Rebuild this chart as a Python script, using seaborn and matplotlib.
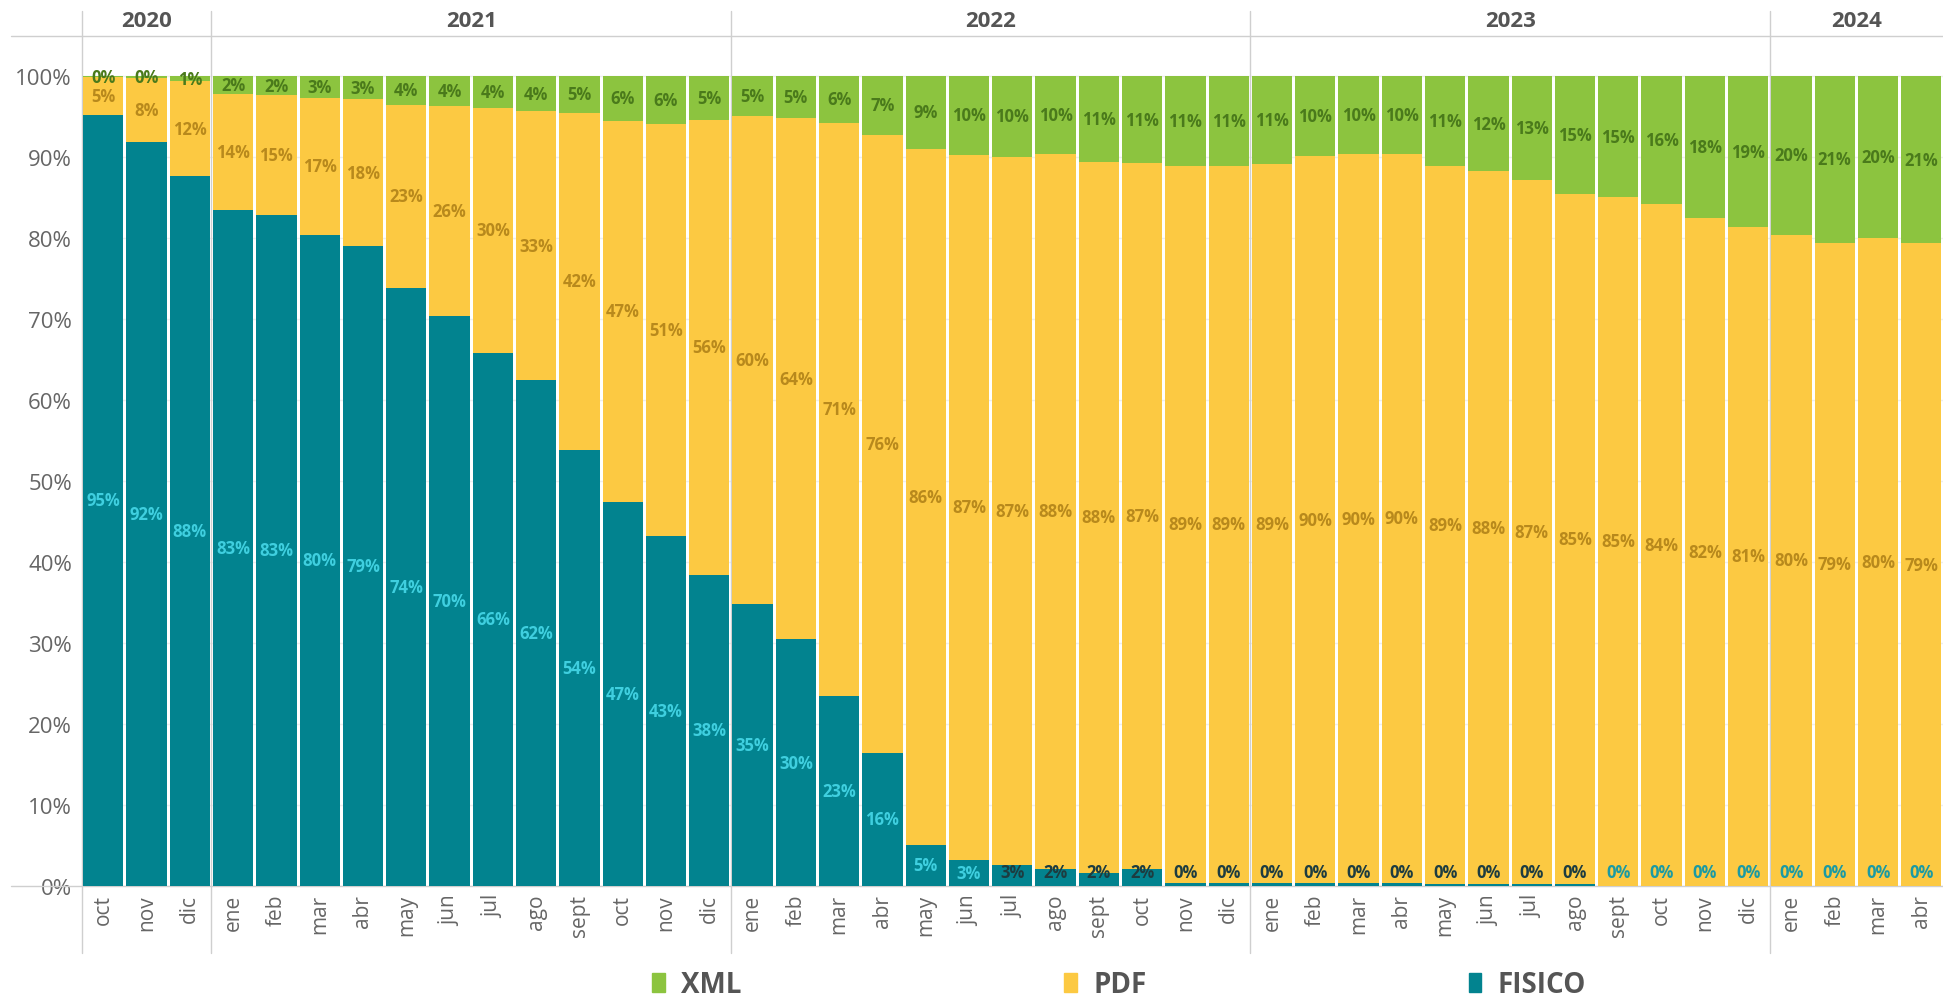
import numpy as np
import pandas as pd
import seaborn as sns
import matplotlib.pyplot as plt
from matplotlib.patches import Patch

# months Oct 2020 .. Apr 2024
months = ["oct", "nov", "dic",
          "ene", "feb", "mar", "abr", "may", "jun", "jul", "ago", "sept", "oct", "nov", "dic",
          "ene", "feb", "mar", "abr", "may", "jun", "jul", "ago", "sept", "oct", "nov", "dic",
          "ene", "feb", "mar", "abr", "may", "jun", "jul", "ago", "sept", "oct", "nov", "dic",
          "ene", "feb", "mar", "abr"]
years = ["2020", "2021", "2022", "2023", "2024"]
year_counts = [3, 12, 12, 12, 4]

fisico = [95.2, 91.8, 87.6, 83.4, 82.8, 80.4, 79.0, 73.8, 70.4, 65.8, 62.4, 53.8, 47.4, 43.2, 38.4,
          34.8, 30.4, 23.4, 16.4, 5.0, 3.2, 2.6, 2.0, 1.6, 2.0, 0.3, 0.3,
          0.3, 0.3, 0.3, 0.3, 0.2, 0.2, 0.2, 0.2, 0.0, 0.0, 0.0, 0.0,
          0.0, 0.0, 0.0, 0.0]
pdf = [4.6, 7.9, 11.7, 14.3, 14.8, 16.8, 18.1, 22.6, 25.9, 30.2, 33.2, 41.6, 47.0, 50.8, 56.2,
       60.2, 64.4, 70.8, 76.3, 86.0, 87.0, 87.4, 88.4, 87.8, 87.2, 88.6, 88.6,
       88.8, 89.8, 90.0, 90.1, 88.6, 88.0, 86.9, 85.2, 85.0, 84.2, 82.4, 81.3,
       80.4, 79.4, 80.0, 79.3]
xml = [0.2, 0.3, 0.7, 2.3, 2.4, 2.8, 2.9, 3.6, 3.7, 4.0, 4.4, 4.6, 5.6, 6.0, 5.4,
       5.0, 5.2, 5.8, 7.3, 9.0, 9.8, 10.0, 9.6, 10.6, 10.8, 11.1, 11.1,
       10.9, 9.9, 9.7, 9.6, 11.2, 11.8, 12.9, 14.6, 15.0, 15.8, 17.6, 18.7,
       19.6, 20.6, 20.0, 20.7]

TEAL = "#02838f"
YELLOW = "#fcc942"
GREEN = "#8cc43f"

df = pd.DataFrame({"pos": np.arange(len(months)), "month": months,
                   "FISICO": fisico, "PDF": pdf, "XML": xml})
df["mid"] = df["FISICO"] + df["PDF"]
df["top"] = df["mid"] + df["XML"]

sns.set_theme(style="white")
plt.rcParams["font.family"] = ["Open Sans", "DejaVu Sans"]

fig, ax = plt.subplots(figsize=(19.43, 10.03), dpi=100)
fig.subplots_adjust(left=0.042, right=1.0, bottom=0.116, top=0.963)

# stacked bars drawn as overlapping cumulative totals
for col, color in [("top", GREEN), ("mid", YELLOW), ("FISICO", TEAL)]:
    sns.barplot(data=df, x="pos", y=col, color=color, width=0.93,
                saturation=1, linewidth=0, ax=ax, zorder=2)

# value labels
lab_size = 12
for i, row in df.iterrows():
    f, p, x = row["FISICO"], row["PDF"], row["XML"]
    if f >= 3:
        fc, fy = "#3fcfdf", f / 2
    elif f > 0:
        fc, fy = "#1d3c40", max(f / 2, 1.7)
    else:
        fc, fy = "#1a9aa3", 1.7
    ax.text(i, fy, f"{f:.0f}%", ha="center", va="center", color=fc,
            fontsize=lab_size, fontweight="bold", zorder=5)
    ax.text(i, f + p / 2, f"{p:.0f}%", ha="center", va="center", color="#b8891c",
            fontsize=lab_size, fontweight="bold", zorder=5)
    ax.text(i, row["top"] - max(x / 2, 0.15), f"{x:.0f}%", ha="center", va="center",
            color="#4a7a1b", fontsize=lab_size, fontweight="bold", zorder=5)

ax.set_xlim(-0.5, len(months) - 0.5)
ax.set_ylim(0, 104.9)
ax.set_yticks(np.arange(0, 101, 10))
ax.set_yticklabels([f"{v}%" for v in range(0, 101, 10)])
ax.set_xticks(np.arange(len(months)))
ax.set_xticklabels(months, rotation=90)
ax.tick_params(axis="y", length=0, pad=7, labelsize=16, labelcolor="#666666")
ax.tick_params(axis="x", length=0, pad=6, labelsize=15, labelcolor="#666666")
ax.set_xlabel("")
ax.set_ylabel("")
ax.yaxis.grid(True, color="#eeeeee", lw=1)
ax.set_axisbelow(True)
for s in ax.spines.values():
    s.set_visible(False)

# header / axis lines
line_kw = dict(color="#cfcfcf", lw=1, clip_on=False, zorder=1)
ax.plot([-0.038, 1], [1, 1], transform=ax.transAxes, **line_kw)
ax.plot([-0.038, 1], [0, 0], transform=ax.transAxes, **line_kw)

# year dividers and year headers
bounds = np.concatenate([[0], np.cumsum(year_counts)]) - 0.5
for b in bounds[:-1]:
    ax.plot([b, b], [-0.079, 1.029], transform=ax.get_xaxis_transform(), **line_kw)
for yr, a, b in zip(years, bounds[:-1], bounds[1:]):
    ax.text((a + b) / 2, 1.018, yr, transform=ax.get_xaxis_transform(),
            ha="center", va="center", fontsize=16, fontweight="bold", color="#555555")

handles = [Patch(color=GREEN), Patch(color=YELLOW), Patch(color=TEAL)]
fig.legend(handles, ["XML", "PDF", "FISICO"], loc="center", bbox_to_anchor=(0.576, 0.017),
           ncol=3, frameon=False, columnspacing=11.6, handlelength=0.45, handleheight=0.7,
           handletextpad=0.6, prop={"weight": "bold", "size": 20}, labelcolor="#555555")

fig.savefig("out.png", dpi=100)
